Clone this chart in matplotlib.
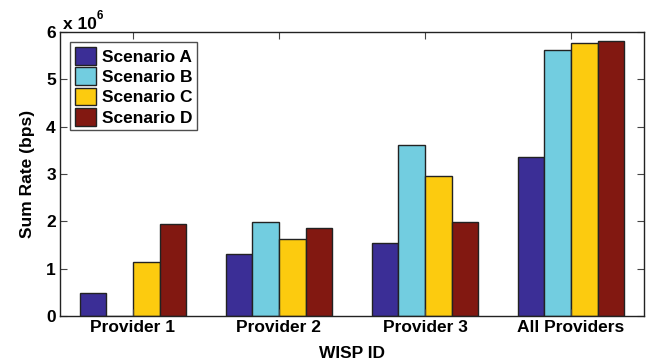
import matplotlib.pyplot as plt
import numpy as np

plt.rcParams['font.family'] = ['Liberation Sans', 'DejaVu Sans']
plt.rcParams['font.weight'] = 'bold'

# data (bps, in units of 1e6)
providers = ['Provider 1', 'Provider 2', 'Provider 3', 'All Providers']
scenario_a = [0.48, 1.30, 1.55, 3.35]
scenario_b = [0.0, 1.98, 3.62, 5.63]
scenario_c = [1.15, 1.63, 2.95, 5.77]
scenario_d = [1.95, 1.85, 1.99, 5.82]
labels = ['Scenario A', 'Scenario B', 'Scenario C', 'Scenario D']
colors = ['#3b2e96', '#72cde0', '#fccb0f', '#821811']

series = [scenario_a, scenario_b, scenario_c, scenario_d]
fs = 12.5

fig = plt.figure(figsize=(6.48, 3.63), dpi=100)
ax = fig.add_axes([60/648, 1 - 316/363, 584/648, 284/363])

x = np.arange(1, len(providers) + 1)
w = 0.182
for i, (vals, lab, col) in enumerate(zip(series, labels, colors)):
    vals = np.array(vals) * 1e6
    ax.bar(x + (i - 1.5) * w, vals, w, color=col, edgecolor='#222222',
           linewidth=1.0, label=lab)

ax.set_xlim(0.5, 4.5)
ax.set_ylim(0, 6e6)
ax.set_xticks(x)
ax.set_xticklabels(providers, fontsize=fs, fontweight='bold')
ax.set_yticks(np.arange(0, 7) * 1e6)
ax.set_yticklabels([str(v) for v in range(7)], fontsize=fs, fontweight='bold')
ax.tick_params(direction='in', top=True, right=True, length=5, width=0.8,
               color='#444444', pad=3)
for s in ax.spines.values():
    s.set_linewidth(1.0)
    s.set_color('#222222')

ax.text(0.005, 1.0, 'x 10', transform=ax.transAxes, fontsize=fs,
        fontweight='bold', ha='left', va='bottom')
ax.text(0.063, 1.035, '6', transform=ax.transAxes, fontsize=8.5,
        fontweight='bold', ha='left', va='bottom')

ax.set_xlabel('WISP ID', fontsize=fs, fontweight='bold', labelpad=8)
ax.set_ylabel('Sum Rate (bps)', fontsize=fs, fontweight='bold', labelpad=8)

leg = ax.legend(loc='upper left', fontsize=fs, frameon=True, fancybox=False,
                edgecolor='#222222', handlelength=1.25, handleheight=1.2,
                handletextpad=0.3, labelspacing=0.15, borderpad=0.25,
                borderaxespad=0.6)
leg.get_frame().set_linewidth(1.0)

fig.savefig('out.png', dpi=100)
